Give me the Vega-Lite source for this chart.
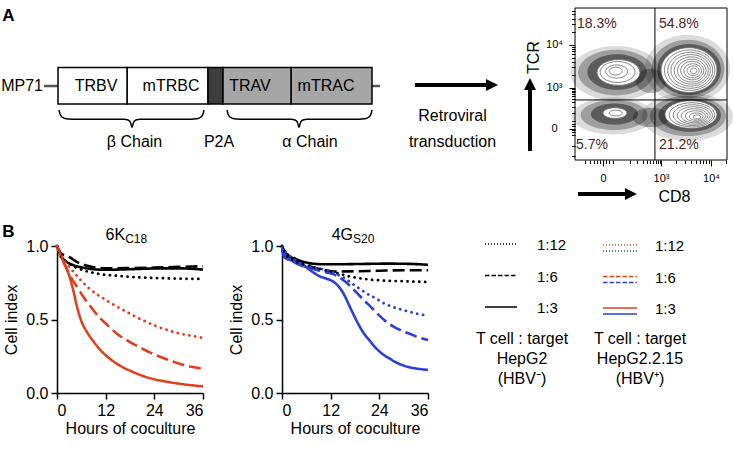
{
  "$schema": "https://vega.github.io/schema/vega-lite/v6.json",
  "background": "white",
  "padding": {"left": 0, "top": 5, "right": 0, "bottom": 0},
  "config": {
    "font": "Liberation Sans",
    "view": {"stroke": null},
    "legend": {"disable": true},
    "axis": {
      "domainColor": "#000", "domainWidth": 1.5, "tickColor": "#000", "tickWidth": 1.5, "tickSize": 6,
      "labelColor": "#000", "labelFontSize": 16, "labelPadding": 3, "titleColor": "#000",
      "titleFontSize": 16, "titleFontWeight": "normal", "grid": false
    }
  },
  "datasets": {
    "kinetics": [
      {"tcr":"6K","target":"HepG2","ratio":"1:3","hour":0,"index":1.0},
      {"tcr":"6K","target":"HepG2","ratio":"1:3","hour":1,"index":0.93},
      {"tcr":"6K","target":"HepG2","ratio":"1:3","hour":2,"index":0.9},
      {"tcr":"6K","target":"HepG2","ratio":"1:3","hour":4,"index":0.87},
      {"tcr":"6K","target":"HepG2","ratio":"1:3","hour":6,"index":0.855},
      {"tcr":"6K","target":"HepG2","ratio":"1:3","hour":9,"index":0.842},
      {"tcr":"6K","target":"HepG2","ratio":"1:3","hour":12,"index":0.838},
      {"tcr":"6K","target":"HepG2","ratio":"1:3","hour":18,"index":0.842},
      {"tcr":"6K","target":"HepG2","ratio":"1:3","hour":24,"index":0.847},
      {"tcr":"6K","target":"HepG2","ratio":"1:3","hour":30,"index":0.848},
      {"tcr":"6K","target":"HepG2","ratio":"1:3","hour":36,"index":0.84},
      {"tcr":"6K","target":"HepG2","ratio":"1:6","hour":0,"index":1.0},
      {"tcr":"6K","target":"HepG2","ratio":"1:6","hour":1,"index":0.95},
      {"tcr":"6K","target":"HepG2","ratio":"1:6","hour":2,"index":0.935},
      {"tcr":"6K","target":"HepG2","ratio":"1:6","hour":3,"index":0.925},
      {"tcr":"6K","target":"HepG2","ratio":"1:6","hour":5,"index":0.89},
      {"tcr":"6K","target":"HepG2","ratio":"1:6","hour":8,"index":0.862},
      {"tcr":"6K","target":"HepG2","ratio":"1:6","hour":12,"index":0.848},
      {"tcr":"6K","target":"HepG2","ratio":"1:6","hour":18,"index":0.85},
      {"tcr":"6K","target":"HepG2","ratio":"1:6","hour":24,"index":0.853},
      {"tcr":"6K","target":"HepG2","ratio":"1:6","hour":30,"index":0.858},
      {"tcr":"6K","target":"HepG2","ratio":"1:6","hour":36,"index":0.862},
      {"tcr":"6K","target":"HepG2","ratio":"1:12","hour":0,"index":1.0},
      {"tcr":"6K","target":"HepG2","ratio":"1:12","hour":1,"index":0.93},
      {"tcr":"6K","target":"HepG2","ratio":"1:12","hour":3,"index":0.88},
      {"tcr":"6K","target":"HepG2","ratio":"1:12","hour":6,"index":0.84},
      {"tcr":"6K","target":"HepG2","ratio":"1:12","hour":10,"index":0.812},
      {"tcr":"6K","target":"HepG2","ratio":"1:12","hour":15,"index":0.797},
      {"tcr":"6K","target":"HepG2","ratio":"1:12","hour":20,"index":0.787},
      {"tcr":"6K","target":"HepG2","ratio":"1:12","hour":26,"index":0.781},
      {"tcr":"6K","target":"HepG2","ratio":"1:12","hour":32,"index":0.777},
      {"tcr":"6K","target":"HepG2","ratio":"1:12","hour":36,"index":0.776},
      {"tcr":"6K","target":"HepG2.2.15","ratio":"1:3","hour":0,"index":1.0},
      {"tcr":"6K","target":"HepG2.2.15","ratio":"1:3","hour":1,"index":0.93},
      {"tcr":"6K","target":"HepG2.2.15","ratio":"1:3","hour":2,"index":0.87},
      {"tcr":"6K","target":"HepG2.2.15","ratio":"1:3","hour":3,"index":0.8},
      {"tcr":"6K","target":"HepG2.2.15","ratio":"1:3","hour":4,"index":0.7},
      {"tcr":"6K","target":"HepG2.2.15","ratio":"1:3","hour":5,"index":0.58},
      {"tcr":"6K","target":"HepG2.2.15","ratio":"1:3","hour":6,"index":0.49},
      {"tcr":"6K","target":"HepG2.2.15","ratio":"1:3","hour":7.5,"index":0.41},
      {"tcr":"6K","target":"HepG2.2.15","ratio":"1:3","hour":9,"index":0.35},
      {"tcr":"6K","target":"HepG2.2.15","ratio":"1:3","hour":11.5,"index":0.27},
      {"tcr":"6K","target":"HepG2.2.15","ratio":"1:3","hour":14.7,"index":0.2},
      {"tcr":"6K","target":"HepG2.2.15","ratio":"1:3","hour":18.8,"index":0.142},
      {"tcr":"6K","target":"HepG2.2.15","ratio":"1:3","hour":23,"index":0.1},
      {"tcr":"6K","target":"HepG2.2.15","ratio":"1:3","hour":27,"index":0.077},
      {"tcr":"6K","target":"HepG2.2.15","ratio":"1:3","hour":31,"index":0.06},
      {"tcr":"6K","target":"HepG2.2.15","ratio":"1:3","hour":36,"index":0.045},
      {"tcr":"6K","target":"HepG2.2.15","ratio":"1:6","hour":0,"index":1.0},
      {"tcr":"6K","target":"HepG2.2.15","ratio":"1:6","hour":0.8,"index":0.93},
      {"tcr":"6K","target":"HepG2.2.15","ratio":"1:6","hour":2,"index":0.87},
      {"tcr":"6K","target":"HepG2.2.15","ratio":"1:6","hour":3.2,"index":0.8},
      {"tcr":"6K","target":"HepG2.2.15","ratio":"1:6","hour":5,"index":0.72},
      {"tcr":"6K","target":"HepG2.2.15","ratio":"1:6","hour":6.5,"index":0.655},
      {"tcr":"6K","target":"HepG2.2.15","ratio":"1:6","hour":8.5,"index":0.58},
      {"tcr":"6K","target":"HepG2.2.15","ratio":"1:6","hour":10.6,"index":0.51},
      {"tcr":"6K","target":"HepG2.2.15","ratio":"1:6","hour":12.5,"index":0.46},
      {"tcr":"6K","target":"HepG2.2.15","ratio":"1:6","hour":14.7,"index":0.405},
      {"tcr":"6K","target":"HepG2.2.15","ratio":"1:6","hour":18.8,"index":0.335},
      {"tcr":"6K","target":"HepG2.2.15","ratio":"1:6","hour":23,"index":0.275},
      {"tcr":"6K","target":"HepG2.2.15","ratio":"1:6","hour":27,"index":0.23},
      {"tcr":"6K","target":"HepG2.2.15","ratio":"1:6","hour":31,"index":0.193},
      {"tcr":"6K","target":"HepG2.2.15","ratio":"1:6","hour":36,"index":0.165},
      {"tcr":"6K","target":"HepG2.2.15","ratio":"1:12","hour":0,"index":1.0},
      {"tcr":"6K","target":"HepG2.2.15","ratio":"1:12","hour":1.6,"index":0.91},
      {"tcr":"6K","target":"HepG2.2.15","ratio":"1:12","hour":3,"index":0.86},
      {"tcr":"6K","target":"HepG2.2.15","ratio":"1:12","hour":4.8,"index":0.8},
      {"tcr":"6K","target":"HepG2.2.15","ratio":"1:12","hour":8,"index":0.71},
      {"tcr":"6K","target":"HepG2.2.15","ratio":"1:12","hour":12.2,"index":0.63},
      {"tcr":"6K","target":"HepG2.2.15","ratio":"1:12","hour":16.3,"index":0.565},
      {"tcr":"6K","target":"HepG2.2.15","ratio":"1:12","hour":20.4,"index":0.505},
      {"tcr":"6K","target":"HepG2.2.15","ratio":"1:12","hour":24.5,"index":0.455},
      {"tcr":"6K","target":"HepG2.2.15","ratio":"1:12","hour":29.5,"index":0.41},
      {"tcr":"6K","target":"HepG2.2.15","ratio":"1:12","hour":34.4,"index":0.383},
      {"tcr":"6K","target":"HepG2.2.15","ratio":"1:12","hour":36,"index":0.375},
      {"tcr":"4G","target":"HepG2","ratio":"1:3","hour":0,"index":1.0},
      {"tcr":"4G","target":"HepG2","ratio":"1:3","hour":0.5,"index":0.95},
      {"tcr":"4G","target":"HepG2","ratio":"1:3","hour":1.5,"index":0.93},
      {"tcr":"4G","target":"HepG2","ratio":"1:3","hour":3,"index":0.915},
      {"tcr":"4G","target":"HepG2","ratio":"1:3","hour":5,"index":0.895},
      {"tcr":"4G","target":"HepG2","ratio":"1:3","hour":7,"index":0.882},
      {"tcr":"4G","target":"HepG2","ratio":"1:3","hour":10,"index":0.876},
      {"tcr":"4G","target":"HepG2","ratio":"1:3","hour":14,"index":0.876},
      {"tcr":"4G","target":"HepG2","ratio":"1:3","hour":20,"index":0.878},
      {"tcr":"4G","target":"HepG2","ratio":"1:3","hour":26,"index":0.88},
      {"tcr":"4G","target":"HepG2","ratio":"1:3","hour":32,"index":0.878},
      {"tcr":"4G","target":"HepG2","ratio":"1:3","hour":36,"index":0.872},
      {"tcr":"4G","target":"HepG2","ratio":"1:6","hour":0,"index":1.0},
      {"tcr":"4G","target":"HepG2","ratio":"1:6","hour":1,"index":0.95},
      {"tcr":"4G","target":"HepG2","ratio":"1:6","hour":2,"index":0.935},
      {"tcr":"4G","target":"HepG2","ratio":"1:6","hour":4,"index":0.9},
      {"tcr":"4G","target":"HepG2","ratio":"1:6","hour":7,"index":0.86},
      {"tcr":"4G","target":"HepG2","ratio":"1:6","hour":10,"index":0.838},
      {"tcr":"4G","target":"HepG2","ratio":"1:6","hour":13,"index":0.826},
      {"tcr":"4G","target":"HepG2","ratio":"1:6","hour":18,"index":0.828},
      {"tcr":"4G","target":"HepG2","ratio":"1:6","hour":24,"index":0.832},
      {"tcr":"4G","target":"HepG2","ratio":"1:6","hour":30,"index":0.835},
      {"tcr":"4G","target":"HepG2","ratio":"1:6","hour":36,"index":0.835},
      {"tcr":"4G","target":"HepG2","ratio":"1:12","hour":0,"index":1.0},
      {"tcr":"4G","target":"HepG2","ratio":"1:12","hour":1,"index":0.94},
      {"tcr":"4G","target":"HepG2","ratio":"1:12","hour":3,"index":0.9},
      {"tcr":"4G","target":"HepG2","ratio":"1:12","hour":6,"index":0.87},
      {"tcr":"4G","target":"HepG2","ratio":"1:12","hour":10,"index":0.84},
      {"tcr":"4G","target":"HepG2","ratio":"1:12","hour":13,"index":0.82},
      {"tcr":"4G","target":"HepG2","ratio":"1:12","hour":16,"index":0.797},
      {"tcr":"4G","target":"HepG2","ratio":"1:12","hour":20,"index":0.777},
      {"tcr":"4G","target":"HepG2","ratio":"1:12","hour":25,"index":0.765},
      {"tcr":"4G","target":"HepG2","ratio":"1:12","hour":30,"index":0.76},
      {"tcr":"4G","target":"HepG2","ratio":"1:12","hour":36,"index":0.755},
      {"tcr":"4G","target":"HepG2.2.15","ratio":"1:3","hour":0,"index":0.97},
      {"tcr":"4G","target":"HepG2.2.15","ratio":"1:3","hour":0.7,"index":0.92},
      {"tcr":"4G","target":"HepG2.2.15","ratio":"1:3","hour":2,"index":0.905},
      {"tcr":"4G","target":"HepG2.2.15","ratio":"1:3","hour":3.4,"index":0.895},
      {"tcr":"4G","target":"HepG2.2.15","ratio":"1:3","hour":5,"index":0.875},
      {"tcr":"4G","target":"HepG2.2.15","ratio":"1:3","hour":6.7,"index":0.84},
      {"tcr":"4G","target":"HepG2.2.15","ratio":"1:3","hour":8,"index":0.815},
      {"tcr":"4G","target":"HepG2.2.15","ratio":"1:3","hour":9.2,"index":0.795},
      {"tcr":"4G","target":"HepG2.2.15","ratio":"1:3","hour":10.5,"index":0.782},
      {"tcr":"4G","target":"HepG2.2.15","ratio":"1:3","hour":11.6,"index":0.772},
      {"tcr":"4G","target":"HepG2.2.15","ratio":"1:3","hour":12.8,"index":0.755},
      {"tcr":"4G","target":"HepG2.2.15","ratio":"1:3","hour":14.1,"index":0.72},
      {"tcr":"4G","target":"HepG2.2.15","ratio":"1:3","hour":15.3,"index":0.67},
      {"tcr":"4G","target":"HepG2.2.15","ratio":"1:3","hour":16.5,"index":0.6},
      {"tcr":"4G","target":"HepG2.2.15","ratio":"1:3","hour":17.7,"index":0.53},
      {"tcr":"4G","target":"HepG2.2.15","ratio":"1:3","hour":19,"index":0.46},
      {"tcr":"4G","target":"HepG2.2.15","ratio":"1:3","hour":20.2,"index":0.405},
      {"tcr":"4G","target":"HepG2.2.15","ratio":"1:3","hour":21.5,"index":0.36},
      {"tcr":"4G","target":"HepG2.2.15","ratio":"1:3","hour":23,"index":0.31},
      {"tcr":"4G","target":"HepG2.2.15","ratio":"1:3","hour":24.7,"index":0.267},
      {"tcr":"4G","target":"HepG2.2.15","ratio":"1:3","hour":26.5,"index":0.235},
      {"tcr":"4G","target":"HepG2.2.15","ratio":"1:3","hour":28,"index":0.21},
      {"tcr":"4G","target":"HepG2.2.15","ratio":"1:3","hour":31.3,"index":0.176},
      {"tcr":"4G","target":"HepG2.2.15","ratio":"1:3","hour":34,"index":0.163},
      {"tcr":"4G","target":"HepG2.2.15","ratio":"1:3","hour":36,"index":0.157},
      {"tcr":"4G","target":"HepG2.2.15","ratio":"1:6","hour":0,"index":0.98},
      {"tcr":"4G","target":"HepG2.2.15","ratio":"1:6","hour":1,"index":0.93},
      {"tcr":"4G","target":"HepG2.2.15","ratio":"1:6","hour":3.4,"index":0.884},
      {"tcr":"4G","target":"HepG2.2.15","ratio":"1:6","hour":6,"index":0.855},
      {"tcr":"4G","target":"HepG2.2.15","ratio":"1:6","hour":8.4,"index":0.838},
      {"tcr":"4G","target":"HepG2.2.15","ratio":"1:6","hour":11,"index":0.82},
      {"tcr":"4G","target":"HepG2.2.15","ratio":"1:6","hour":13.3,"index":0.8},
      {"tcr":"4G","target":"HepG2.2.15","ratio":"1:6","hour":15.5,"index":0.76},
      {"tcr":"4G","target":"HepG2.2.15","ratio":"1:6","hour":17.4,"index":0.712},
      {"tcr":"4G","target":"HepG2.2.15","ratio":"1:6","hour":19,"index":0.665},
      {"tcr":"4G","target":"HepG2.2.15","ratio":"1:6","hour":20.6,"index":0.621},
      {"tcr":"4G","target":"HepG2.2.15","ratio":"1:6","hour":22.3,"index":0.575},
      {"tcr":"4G","target":"HepG2.2.15","ratio":"1:6","hour":23.9,"index":0.53},
      {"tcr":"4G","target":"HepG2.2.15","ratio":"1:6","hour":25.5,"index":0.49},
      {"tcr":"4G","target":"HepG2.2.15","ratio":"1:6","hour":27.2,"index":0.457},
      {"tcr":"4G","target":"HepG2.2.15","ratio":"1:6","hour":29,"index":0.43},
      {"tcr":"4G","target":"HepG2.2.15","ratio":"1:6","hour":31.3,"index":0.405},
      {"tcr":"4G","target":"HepG2.2.15","ratio":"1:6","hour":33.5,"index":0.38},
      {"tcr":"4G","target":"HepG2.2.15","ratio":"1:6","hour":36,"index":0.36},
      {"tcr":"4G","target":"HepG2.2.15","ratio":"1:12","hour":0,"index":0.99},
      {"tcr":"4G","target":"HepG2.2.15","ratio":"1:12","hour":1,"index":0.955},
      {"tcr":"4G","target":"HepG2.2.15","ratio":"1:12","hour":2.5,"index":0.92},
      {"tcr":"4G","target":"HepG2.2.15","ratio":"1:12","hour":5,"index":0.87},
      {"tcr":"4G","target":"HepG2.2.15","ratio":"1:12","hour":8,"index":0.85},
      {"tcr":"4G","target":"HepG2.2.15","ratio":"1:12","hour":10.8,"index":0.838},
      {"tcr":"4G","target":"HepG2.2.15","ratio":"1:12","hour":13,"index":0.815},
      {"tcr":"4G","target":"HepG2.2.15","ratio":"1:12","hour":14.9,"index":0.79},
      {"tcr":"4G","target":"HepG2.2.15","ratio":"1:12","hour":17,"index":0.75},
      {"tcr":"4G","target":"HepG2.2.15","ratio":"1:12","hour":19,"index":0.712},
      {"tcr":"4G","target":"HepG2.2.15","ratio":"1:12","hour":21,"index":0.675},
      {"tcr":"4G","target":"HepG2.2.15","ratio":"1:12","hour":23.1,"index":0.644},
      {"tcr":"4G","target":"HepG2.2.15","ratio":"1:12","hour":25,"index":0.612},
      {"tcr":"4G","target":"HepG2.2.15","ratio":"1:12","hour":27.2,"index":0.587},
      {"tcr":"4G","target":"HepG2.2.15","ratio":"1:12","hour":29.5,"index":0.567},
      {"tcr":"4G","target":"HepG2.2.15","ratio":"1:12","hour":31.3,"index":0.553},
      {"tcr":"4G","target":"HepG2.2.15","ratio":"1:12","hour":33.5,"index":0.538},
      {"tcr":"4G","target":"HepG2.2.15","ratio":"1:12","hour":36,"index":0.525}
    ],
    "segments": [
      {"segment":"mTRBC","start":127,"end":208,"chain":"β","region":"murine constant"},
      {"segment":"mTRAC","start":291,"end":372,"chain":"α","region":"murine constant"},
      {"segment":"TRBV","start":58,"end":127,"chain":"β","region":"variable"},
      {"segment":"P2A","start":208,"end":223,"chain":"P2A","region":"linker"},
      {"segment":"TRAV","start":223,"end":291,"chain":"α","region":"variable"}
    ],
    "segmentLabels": [
      {"label":"TRBV","at":96},
      {"label":"mTRBC","at":171},
      {"label":"TRAV","at":250},
      {"label":"mTRAC","at":326}
    ],
    "braceLabels": [
      {"label":"β Chain","at":134.5},
      {"label":"P2A","at":219},
      {"label":"α Chain","at":310}
    ],
    "braces": [
      {"brace":"β","along":59,"depth":102},{"brace":"β","along":60,"depth":106},{"brace":"β","along":62,"depth":109},
      {"brace":"β","along":66,"depth":110.8},{"brace":"β","along":72,"depth":111.2},{"brace":"β","along":124,"depth":111.2},
      {"brace":"β","along":128,"depth":112},{"brace":"β","along":130.5,"depth":114.5},{"brace":"β","along":132,"depth":119.5},
      {"brace":"β","along":133.5,"depth":114.5},{"brace":"β","along":136,"depth":112},{"brace":"β","along":140,"depth":111.2},
      {"brace":"β","along":191,"depth":111.2},{"brace":"β","along":197,"depth":110.8},{"brace":"β","along":201,"depth":109},
      {"brace":"β","along":203,"depth":106},{"brace":"β","along":204,"depth":102},
      {"brace":"α","along":227,"depth":102},{"brace":"α","along":228,"depth":106},{"brace":"α","along":230,"depth":109},
      {"brace":"α","along":234,"depth":110.8},{"brace":"α","along":240,"depth":111.2},{"brace":"α","along":291,"depth":111.2},
      {"brace":"α","along":295,"depth":112},{"brace":"α","along":297.5,"depth":114.5},{"brace":"α","along":299,"depth":119.5},
      {"brace":"α","along":300.5,"depth":114.5},{"brace":"α","along":303,"depth":112},{"brace":"α","along":307,"depth":111.2},
      {"brace":"α","along":359,"depth":111.2},{"brace":"α","along":365,"depth":110.8},{"brace":"α","along":369,"depth":109},
      {"brace":"α","along":371,"depth":106},{"brace":"α","along":372,"depth":102}
    ],
    "flowEvents": [
      {"pop":"UL","density":"halo","cd8":27.0,"tcr":57.0,"extent":60},
      {"pop":"UR","density":"halo","cd8":74.0,"tcr":60.0,"extent":56},
      {"pop":"LR","density":"halo","cd8":74.0,"tcr":28.5,"extent":60},
      {"pop":"LL","density":"halo","cd8":25.0,"tcr":29.0,"extent":54},
      {"pop":"UL","density":"sparse","cd8":27.0,"tcr":57.5,"extent":50},
      {"pop":"UR","density":"sparse","cd8":74.3,"tcr":59.9,"extent":48},
      {"pop":"LR","density":"sparse","cd8":74.3,"tcr":29.0,"extent":50},
      {"pop":"LL","density":"sparse","cd8":25.7,"tcr":29.6,"extent":44},
      {"pop":"UR","density":"sparse","cd8":50.0,"tcr":52.0,"extent":20},
      {"pop":"LR","density":"sparse","cd8":50.0,"tcr":28.0,"extent":24},
      {"pop":"UL","density":"dense","cd8":27.6,"tcr":57.9,"extent":39},
      {"pop":"UR","density":"dense","cd8":75.0,"tcr":59.5,"extent":42},
      {"pop":"LR","density":"dense","cd8":75.5,"tcr":29.5,"extent":41},
      {"pop":"LL","density":"dense","cd8":26.0,"tcr":30.2,"extent":31}
    ],
    "flowContours": [
      {"pop":"UL","cd8":28.6,"tcr":57.6,"extent":28.3},
      {"pop":"UL","cd8":28.0,"tcr":57.9,"extent":23},
      {"pop":"UL","cd8":27.4,"tcr":58.2,"extent":14.5},
      {"pop":"UL","cd8":26.8,"tcr":58.5,"extent":8.6},
      {"pop":"UR","cd8":75.0,"tcr":59.2,"extent":36.8},
      {"pop":"UR","cd8":75.4,"tcr":59.1,"extent":33.2},
      {"pop":"UR","cd8":75.8,"tcr":59.0,"extent":29.6},
      {"pop":"UR","cd8":76.1,"tcr":59.0,"extent":26},
      {"pop":"UR","cd8":76.5,"tcr":58.9,"extent":22.4},
      {"pop":"UR","cd8":76.8,"tcr":58.8,"extent":18.8},
      {"pop":"UR","cd8":77.1,"tcr":58.8,"extent":15.2},
      {"pop":"UR","cd8":77.4,"tcr":58.7,"extent":11.6},
      {"pop":"UR","cd8":77.7,"tcr":58.7,"extent":8},
      {"pop":"UR","cd8":78.0,"tcr":58.6,"extent":4.5},
      {"pop":"LR","cd8":76.3,"tcr":29.9,"extent":34.2},
      {"pop":"LR","cd8":76.9,"tcr":29.7,"extent":30},
      {"pop":"LR","cd8":77.5,"tcr":29.5,"extent":25.8},
      {"pop":"LR","cd8":78.1,"tcr":29.3,"extent":21.6},
      {"pop":"LR","cd8":78.6,"tcr":29.1,"extent":17.4},
      {"pop":"LR","cd8":79.2,"tcr":28.9,"extent":13.2},
      {"pop":"LR","cd8":79.8,"tcr":28.6,"extent":9},
      {"pop":"LR","cd8":80.3,"tcr":28.4,"extent":5},
      {"pop":"LL","cd8":26.3,"tcr":30.9,"extent":15.8},
      {"pop":"LL","cd8":26.8,"tcr":30.9,"extent":8.5}
    ],
    "flowFrame": [{"cd8":0,"cd8End":100,"tcr":0,"tcrEnd":100}],
    "flowGates": [
      {"gate":"CD8","cd8":52.6,"cd8End":52.6,"tcr":0,"tcrEnd":100},
      {"gate":"TCR","cd8":0,"cd8End":100,"tcr":39.5,"tcrEnd":39.5}
    ],
    "flowQuadrants": [
      {"label":"18.3%","cd8":1.3,"tcr":89.5},
      {"label":"54.8%","cd8":55.3,"tcr":89.5},
      {"label":"5.7%","cd8":0.7,"tcr":9.9},
      {"label":"21.2%","cd8":55.3,"tcr":9.9}
    ],
    "axisArrows": [
      {"axis":"TCR","cd8":-29.6,"tcr":5.9,"cd8End":-29.6,"tcrEnd":46.7},
      {"axis":"CD8","cd8":2.0,"tcr":-22.4,"cd8End":34.2,"tcrEnd":-22.4}
    ],
    "arrowHeads": [
      {"axis":"TCR","cd8":-29.6,"tcr":50.0},
      {"axis":"CD8","cd8":36.8,"tcr":-22.4}
    ],
    "legendItems": [
      {"ratio":"1:12","series":"HepG2"},{"ratio":"1:6","series":"HepG2"},{"ratio":"1:3","series":"HepG2"},
      {"ratio":"1:12","series":"HepG2.2.15 6K"},{"ratio":"1:6","series":"HepG2.2.15 6K"},{"ratio":"1:3","series":"HepG2.2.15 6K"},
      {"ratio":"1:12","series":"HepG2.2.15 4G"},{"ratio":"1:6","series":"HepG2.2.15 4G"},{"ratio":"1:3","series":"HepG2.2.15 4G"}
    ],
    "legendCaptions": [
      {"slot":"caption","column":"left","lines":["T cell : target","HepG2","(HBV⁻)"]},
      {"slot":"caption","column":"right","lines":["T cell : target","HepG2.2.15","(HBV⁺)"]}
    ]
  },
  "bounds": "flush",
  "spacing": 86,
  "resolve": {"scale": {"color": "independent", "strokeDash": "independent", "shape": "independent", "size": "independent", "opacity": "independent", "fill": "independent", "strokeWidth": "independent"}},
  "vconcat": [
    {
      "width": 734, "height": 152,
      "resolve": {"scale": {"x": "independent", "y": "independent", "color": "independent", "strokeDash": "independent", "shape": "independent", "size": "independent", "opacity": "independent", "fill": "independent"}},
      "layer": [
        {
          "layer": [
            {
              "data": {"values": [{"from": 44, "to": 58}, {"from": 372, "to": 380}]},
              "mark": {"type": "rule", "color": "#555", "strokeWidth": 2.5},
              "encoding": {
                "x": {"field": "from", "type": "quantitative", "scale": {"domain": [0, 545], "range": [0, 545], "nice": false, "zero": false}, "axis": null},
                "x2": {"field": "to"},
                "y": {"datum": 78, "type": "quantitative", "scale": {"domain": [0, 152], "range": [0, 152], "nice": false, "zero": false}, "axis": null}
              }
            },
            {
              "data": {"name": "segments"},
              "mark": {"type": "rect", "stroke": "#000", "strokeWidth": 1.5},
              "encoding": {
                "x": {"field": "start", "type": "quantitative", "axis": null},
                "x2": {"field": "end"},
                "y": {"datum": 59.5, "type": "quantitative", "axis": null},
                "y2": {"datum": 96},
                "fill": {"field": "chain", "type": "nominal", "scale": {"domain": ["β", "P2A", "α"], "range": ["#ffffff", "#3d3d3d", "#a6a6a6"]}},
                "strokeDash": {"field": "region", "type": "nominal", "scale": {"domain": ["variable", "murine constant", "linker"], "range": [[1, 0], [4, 2], [1, 0]]}}
              }
            },
            {
              "data": {"name": "segmentLabels"},
              "mark": {"type": "text", "fontSize": 16, "align": "center", "baseline": "middle", "color": "#000"},
              "encoding": {"x": {"field": "at", "type": "quantitative", "axis": null}, "y": {"datum": 78, "type": "quantitative", "axis": null}, "text": {"field": "label"}}
            },
            {
              "data": {"values": [{"label": "MP71", "at": 43}]},
              "mark": {"type": "text", "fontSize": 16, "align": "right", "baseline": "middle", "color": "#000"},
              "encoding": {"x": {"field": "at", "type": "quantitative", "axis": null}, "y": {"datum": 78, "type": "quantitative", "axis": null}, "text": {"field": "label"}}
            },
            {
              "data": {"name": "braces"},
              "mark": {"type": "line", "interpolate": "monotone", "color": "#000", "strokeWidth": 1.5},
              "encoding": {"x": {"field": "along", "type": "quantitative", "axis": null}, "y": {"field": "depth", "type": "quantitative", "axis": null}, "detail": {"field": "brace"}}
            },
            {
              "data": {"name": "braceLabels"},
              "mark": {"type": "text", "fontSize": 16, "align": "center", "baseline": "middle", "color": "#000"},
              "encoding": {"x": {"field": "at", "type": "quantitative", "axis": null}, "y": {"datum": 134, "type": "quantitative", "axis": null}, "text": {"field": "label"}}
            },
            {
              "data": {"values": [{"panel": "A"}]},
              "mark": {"type": "text", "fontSize": 17, "fontWeight": "bold", "align": "center", "baseline": "middle", "color": "#000"},
              "encoding": {"x": {"datum": 8.5, "type": "quantitative", "axis": null}, "y": {"datum": 7.5, "type": "quantitative", "axis": null}, "text": {"field": "panel"}}
            },
            {
              "data": {"values": [{"start": 415, "end": 488}]},
              "mark": {"type": "rule", "color": "#000", "strokeWidth": 4},
              "encoding": {"x": {"field": "start", "type": "quantitative", "axis": null}, "x2": {"field": "end"}, "y": {"datum": 77, "type": "quantitative", "axis": null}}
            },
            {
              "data": {"values": [{"tip": 492}]},
              "mark": {"type": "point", "shape": "M-1,-1L1,0L-1,1Z", "size": 144, "filled": true, "color": "#000", "opacity": 1},
              "encoding": {"x": {"field": "tip", "type": "quantitative", "axis": null}, "y": {"datum": 77, "type": "quantitative", "axis": null}}
            },
            {
              "data": {"values": [{"lines": ["Retroviral", "transduction"], "at": 452.5}]},
              "mark": {"type": "text", "fontSize": 16, "align": "center", "baseline": "middle", "lineHeight": 26, "color": "#000"},
              "encoding": {"x": {"field": "at", "type": "quantitative", "axis": null}, "y": {"datum": 108, "type": "quantitative", "axis": null}, "text": {"field": "lines"}}
            }
          ]
        },
        {
          "encoding": {
            "x": {"field": "cd8", "type": "quantitative", "scale": {"domain": [0, 100], "range": [575, 727], "nice": false, "zero": false},
              "axis": {
                "orient": "bottom",
                "values": [6.6, 9.9, 12.5, 14.5, 16.4, 18.4, 20.4, 22.4, 25.0, 36.2, 40.8, 44.7, 47.4, 49.3, 51.3, 53.0, 54.3, 55.6, 56.6, 66.4, 72.3, 76.4, 79.6, 82.2, 84.4, 86.3, 88.0, 89.5, 99.3],
                "labelExpr": "datum.value === 18.4 ? '0' : datum.value === 56.6 ? '10³' : datum.value === 89.5 ? '10⁴' : ''",
                "tickSize": {"condition": {"test": "datum.value === 18.4 || datum.value === 56.6 || datum.value === 89.5", "value": 6}, "value": 3.5},
                "tickWidth": 1, "domain": false, "labelFontSize": 11, "labelPadding": 6, "labelOverlap": false, "labelBound": false, "labelFlush": false,
                "title": "CD8", "titleFontSize": 16, "titleX": 674, "titleY": 36, "titleAlign": "center", "titleBaseline": "middle"
              }
            },
            "y": {"field": "tcr", "type": "quantitative", "scale": {"domain": [0, 100], "range": [152, 0], "nice": false, "zero": false},
              "axis": {
                "orient": "left", "offset": -575,
                "values": [2.6, 9.2, 16.4, 18.4, 19.7, 20.5, 22.4, 23.7, 25.7, 30.9, 34.9, 38.2, 40.1, 42.1, 43.4, 44.7, 45.7, 46.7, 47.4, 55.9, 61.0, 64.5, 67.3, 69.5, 71.4, 73.1, 74.5, 75.9, 84.4, 89.5, 93.0, 95.8, 98.0],
                "labelExpr": "datum.value === 20.5 ? '0' : datum.value === 47.4 ? '10³' : datum.value === 75.9 ? '10⁴' : ''",
                "tickSize": {"condition": {"test": "datum.value === 20.5 || datum.value === 47.4 || datum.value === 75.9", "value": 6}, "value": 3.5},
                "tickWidth": 1, "domain": false, "labelFontSize": 11, "labelAlign": "center", "labelPadding": 15, "labelOverlap": false, "labelBound": false, "labelFlush": false,
                "title": "TCR", "titleFontSize": 16, "titleX": -42, "titleY": 49, "titleAlign": "center", "titleBaseline": "middle"
              }
            }
          },
          "layer": [
            {
              "data": {"name": "flowEvents"},
              "mark": {"type": "point", "filled": true, "color": "#000", "strokeWidth": 0},
              "encoding": {
                "shape": {"field": "pop", "type": "nominal", "scale": {"domain": ["UL", "UR", "LR", "LL"], "range": [
                  "M-1,0C-1,-0.331,-0.552,-0.6,0,-0.6C0.552,-0.6,1,-0.331,1,0C1,0.331,0.552,0.6,0,0.6C-0.552,0.6,-1,0.331,-1,0Z",
                  "M-1,0C-1,-0.442,-0.552,-0.8,0,-0.8C0.552,-0.8,1,-0.442,1,0C1,0.442,0.552,0.8,0,0.8C-0.552,0.8,-1,0.442,-1,0Z",
                  "M-1,0C-1,-0.293,-0.552,-0.53,0,-0.53C0.552,-0.53,1,-0.293,1,0C1,0.293,0.552,0.53,0,0.53C-0.552,0.53,-1,0.293,-1,0Z",
                  "M-1,0C-1,-0.249,-0.552,-0.45,0,-0.45C0.552,-0.45,1,-0.249,1,0C1,0.249,0.552,0.45,0,0.45C-0.552,0.45,-1,0.249,-1,0Z"
                ]}},
                "size": {"field": "extent", "type": "quantitative", "scale": {"type": "pow", "exponent": 2, "domain": [0, 100], "range": [0, 23104]}},
                "opacity": {"field": "density", "type": "nominal", "scale": {"domain": ["halo", "sparse", "dense"], "range": [0.14, 0.42, 0.8]}}
              }
            },
            {
              "data": {"name": "flowContours"},
              "mark": {"type": "point", "filled": true, "fill": "#ffffff", "fillOpacity": 1, "stroke": "#6a6a6a", "strokeWidth": 0.8, "opacity": 1},
              "encoding": {
                "shape": {"field": "pop", "type": "nominal"},
                "size": {"field": "extent", "type": "quantitative"}
              }
            },
            {
              "data": {"name": "flowFrame"},
              "mark": {"type": "rect", "fillOpacity": 0, "stroke": "#000", "strokeWidth": 1},
              "encoding": {"x2": {"field": "cd8End"}, "y2": {"field": "tcrEnd"}}
            },
            {
              "data": {"name": "flowGates"},
              "mark": {"type": "rule", "color": "#000", "strokeWidth": 1},
              "encoding": {"x2": {"field": "cd8End"}, "y2": {"field": "tcrEnd"}}
            },
            {
              "data": {"name": "flowQuadrants"},
              "mark": {"type": "text", "align": "left", "baseline": "middle", "fontSize": 14, "color": "#4a1f1f"},
              "encoding": {"text": {"field": "label"}}
            },
            {
              "data": {"name": "axisArrows"},
              "mark": {"type": "rule", "color": "#000", "strokeWidth": 4},
              "encoding": {"x2": {"field": "cd8End"}, "y2": {"field": "tcrEnd"}}
            },
            {
              "data": {"name": "arrowHeads"},
              "transform": [{"filter": "datum.axis === 'TCR'"}],
              "mark": {"type": "point", "shape": "M-1,1L0,-1L1,1Z", "size": 144, "filled": true, "color": "#000", "opacity": 1}
            },
            {
              "data": {"name": "arrowHeads"},
              "transform": [{"filter": "datum.axis === 'CD8'"}],
              "mark": {"type": "point", "shape": "M-1,-1L1,0L-1,1Z", "size": 144, "filled": true, "color": "#000", "opacity": 1}
            }
          ]
        }
      ]
    },
    {
      "width": 734, "height": 147,
      "resolve": {"scale": {"x": "independent", "y": "independent", "color": "independent", "strokeDash": "independent", "strokeWidth": "independent"}},
      "layer": [
        {
          "data": {"name": "kinetics"},
          "transform": [{"filter": "datum.tcr === '6K'"}],
          "encoding": {
            "x": {"field": "hour", "type": "quantitative", "scale": {"domain": [0, 36], "range": [57, 203], "nice": false}, "axis": {"orient": "bottom", "values": [0, 12, 24, 36], "title": "Hours of coculture", "titlePadding": 2}},
            "y": {"field": "index", "type": "quantitative", "scale": {"domain": [0, 1], "range": [147, 0], "nice": false}, "axis": {"orient": "left", "offset": -57, "values": [0, 0.5, 1], "format": ".1f", "title": "Cell index", "titlePadding": 6}},
            "color": {"field": "target", "type": "nominal", "scale": {"domain": ["HepG2", "HepG2.2.15"], "range": ["#000000", "#e0401e"]}}
          },
          "layer": [
            {
              "transform": [{"filter": "datum.ratio !== '1:12'"}],
              "mark": {"type": "line", "interpolate": "monotone", "strokeWidth": 2.6, "strokeCap": "butt"},
              "encoding": {"strokeDash": {"field": "ratio", "type": "nominal", "scale": {"domain": ["1:6", "1:3"], "range": [[12, 5], [1, 0]]}}}
            },
            {
              "transform": [{"filter": "datum.ratio === '1:12'"}],
              "mark": {"type": "line", "interpolate": "monotone", "strokeWidth": 2.8, "strokeCap": "round", "strokeDash": [0.1, 5.8]}
            },
            {
              "data": {"values": [{"main": "6K", "sub": "C18", "hour": 16.8, "index": 1.0}]},
              "mark": {"type": "text", "align": "right", "baseline": "alphabetic", "fontSize": 16, "dy": -6},
              "encoding": {"text": {"field": "main"}, "color": {"value": "#000"}}
            },
            {
              "data": {"values": [{"main": "6K", "sub": "C18", "hour": 16.8, "index": 1.0}]},
              "mark": {"type": "text", "align": "left", "baseline": "alphabetic", "fontSize": 12, "dy": -3},
              "encoding": {"text": {"field": "sub"}, "color": {"value": "#000"}}
            },
            {
              "data": {"values": [{"panel": "B", "hour": -11.96, "index": 1.095}]},
              "mark": {"type": "text", "align": "center", "baseline": "middle", "fontSize": 17, "fontWeight": "bold"},
              "encoding": {"text": {"field": "panel"}, "color": {"value": "#000"}}
            }
          ]
        },
        {
          "data": {"name": "kinetics"},
          "transform": [{"filter": "datum.tcr === '4G'"}],
          "encoding": {
            "x": {"field": "hour", "type": "quantitative", "scale": {"domain": [0, 36], "range": [282, 428], "nice": false}, "axis": {"orient": "bottom", "values": [0, 12, 24, 36], "title": "Hours of coculture", "titlePadding": 2}},
            "y": {"field": "index", "type": "quantitative", "scale": {"domain": [0, 1], "range": [147, 0], "nice": false}, "axis": {"orient": "left", "offset": -282, "values": [0, 0.5, 1], "format": ".1f", "title": "Cell index", "titlePadding": 6}},
            "color": {"field": "target", "type": "nominal", "scale": {"domain": ["HepG2", "HepG2.2.15"], "range": ["#000000", "#2b40d8"]}}
          },
          "layer": [
            {
              "transform": [{"filter": "datum.ratio !== '1:12'"}],
              "mark": {"type": "line", "interpolate": "monotone", "strokeWidth": 2.6, "strokeCap": "butt"},
              "encoding": {"strokeDash": {"field": "ratio", "type": "nominal", "scale": {"domain": ["1:6", "1:3"], "range": [[12, 5], [1, 0]]}}}
            },
            {
              "transform": [{"filter": "datum.ratio === '1:12'"}],
              "mark": {"type": "line", "interpolate": "monotone", "strokeWidth": 2.8, "strokeCap": "round", "strokeDash": [0.1, 5.8]}
            },
            {
              "data": {"values": [{"main": "4G", "sub": "S20", "hour": 17.5, "index": 1.0}]},
              "mark": {"type": "text", "align": "right", "baseline": "alphabetic", "fontSize": 16, "dy": -6},
              "encoding": {"text": {"field": "main"}, "color": {"value": "#000"}}
            },
            {
              "data": {"values": [{"main": "4G", "sub": "S20", "hour": 17.5, "index": 1.0}]},
              "mark": {"type": "text", "align": "left", "baseline": "alphabetic", "fontSize": 12, "dy": -3},
              "encoding": {"text": {"field": "sub"}, "color": {"value": "#000"}}
            }
          ]
        },
        {
          "layer": [
            {
              "data": {"name": "legendItems"},
              "transform": [{"filter": "datum.series === 'HepG2'"}],
              "mark": {"type": "rule", "yOffset": -2},
              "encoding": {
                "x": {"datum": 27, "type": "quantitative", "scale": {"domain": [0, 270], "range": [458, 728], "nice": false, "zero": false}, "axis": null},
                "x2": {"datum": 59},
                "y": {"field": "ratio", "type": "ordinal", "scale": {"type": "point", "domain": ["1:12", "1:6", "1:3", "caption"], "range": [0, 94.5], "padding": 0}, "axis": null},
                "color": {"field": "series", "type": "nominal", "scale": {"domain": ["HepG2", "HepG2.2.15 6K", "HepG2.2.15 4G"], "range": ["#000000", "#e0401e", "#2b40d8"]}},
                "strokeDash": {"field": "ratio", "type": "nominal", "scale": {"domain": ["1:12", "1:6", "1:3"], "range": [[1, 2], [4.5, 2], [1, 0]]}},
                "strokeWidth": {"field": "ratio", "type": "nominal", "scale": {"domain": ["1:12", "1:6", "1:3"], "range": [1.3, 1.6, 2.2]}}
              }
            },
            {
              "data": {"name": "legendItems"},
              "transform": [{"filter": "datum.series === 'HepG2.2.15 6K'"}],
              "mark": {"type": "rule", "yOffset": -1},
              "encoding": {
                "x": {"datum": 145, "type": "quantitative", "axis": null},
                "x2": {"datum": 179},
                "y": {"field": "ratio", "type": "ordinal", "axis": null},
                "color": {"field": "series", "type": "nominal"},
                "strokeDash": {"field": "ratio", "type": "nominal"},
                "strokeWidth": {"field": "ratio", "type": "nominal"}
              }
            },
            {
              "data": {"name": "legendItems"},
              "transform": [{"filter": "datum.series === 'HepG2.2.15 4G'"}],
              "mark": {"type": "rule", "yOffset": 5},
              "encoding": {
                "x": {"datum": 145, "type": "quantitative", "axis": null},
                "x2": {"datum": 179},
                "y": {"field": "ratio", "type": "ordinal", "axis": null},
                "color": {"field": "series", "type": "nominal"},
                "strokeDash": {"field": "ratio", "type": "nominal"},
                "strokeWidth": {"field": "ratio", "type": "nominal"}
              }
            },
            {
              "data": {"name": "legendItems"},
              "transform": [{"filter": "datum.series === 'HepG2'"}],
              "mark": {"type": "text", "align": "left", "baseline": "middle", "fontSize": 15, "color": "#000", "yOffset": -1},
              "encoding": {
                "x": {"datum": 79, "type": "quantitative", "axis": null},
                "y": {"field": "ratio", "type": "ordinal", "axis": null},
                "text": {"field": "ratio"}
              }
            },
            {
              "data": {"name": "legendItems"},
              "transform": [{"filter": "datum.series === 'HepG2.2.15 6K'"}],
              "mark": {"type": "text", "align": "left", "baseline": "middle", "fontSize": 15, "color": "#000"},
              "encoding": {
                "x": {"datum": 197, "type": "quantitative", "axis": null},
                "y": {"field": "ratio", "type": "ordinal", "axis": null},
                "text": {"field": "ratio"}
              }
            },
            {
              "data": {"name": "legendCaptions"},
              "transform": [{"filter": "datum.column === 'left'"}],
              "mark": {"type": "text", "align": "center", "baseline": "middle", "fontSize": 16, "lineHeight": 20, "color": "#000", "dy": -2},
              "encoding": {
                "x": {"datum": 64, "type": "quantitative", "axis": null},
                "y": {"field": "slot", "type": "ordinal", "axis": null},
                "text": {"field": "lines"}
              }
            },
            {
              "data": {"name": "legendCaptions"},
              "transform": [{"filter": "datum.column === 'right'"}],
              "mark": {"type": "text", "align": "center", "baseline": "middle", "fontSize": 16, "lineHeight": 20, "color": "#000", "dy": -2},
              "encoding": {
                "x": {"datum": 182, "type": "quantitative", "axis": null},
                "y": {"field": "slot", "type": "ordinal", "axis": null},
                "text": {"field": "lines"}
              }
            }
          ]
        }
      ]
    }
  ]
}
